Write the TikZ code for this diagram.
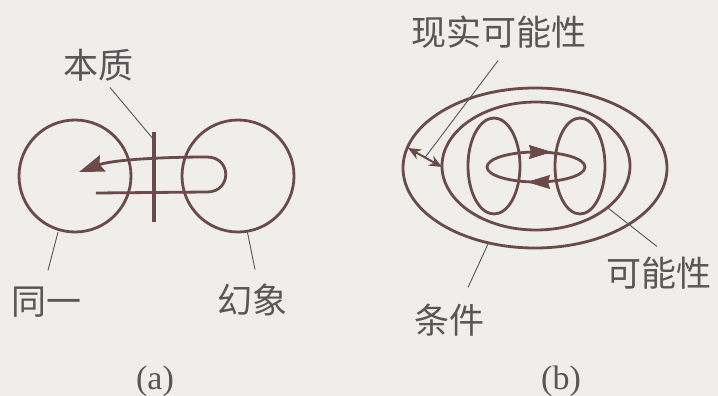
\documentclass[tikz,border=0pt]{standalone}
\usepackage{fontspec}
\setmainfont{Liberation Serif}
\newfontfamily\cjk{Noto Sans CJK SC}
\usetikzlibrary{arrows.meta,calc}
\definecolor{ink}{RGB}{108,74,74}
\definecolor{txt}{RGB}{88,86,86}
\definecolor{paper}{RGB}{239,238,234}

\begin{document}
\begin{tikzpicture}[x=0.5pt,y=-0.5pt,
    line/.style={draw=ink,line width=1.4pt},
    lead/.style={draw=txt,line width=0.45pt},
    word/.style={text=txt,inner sep=0pt,font=\cjk\fontsize{17.5}{18}\selectfont},
    tag/.style={text=txt,inner sep=0pt,font=\fontsize{17}{18}\selectfont}]
    \fill[paper] (0,0) rectangle (718,396);
    \useasboundingbox (0,0) rectangle (718,396);

    % (a)
    \draw[line] (75,176) circle[radius=56];
    \draw[line] (238,176) circle[radius=56];
    \draw[line,-{Stealth[length=12.5pt,width=8.5pt,inset=1.5pt]}] (96,193) -- (207,192)
        .. controls (232,192) and (232,157) .. (207,157)
        .. controls (160,157) and (112,160) .. (79,172);
    \draw[ink,line width=2.2pt] (154,132) -- (154,222);
    \coordinate (barhit) at (154,140);
    \coordinate (samehit) at (58,232);
    \coordinate (illusionhit) at (247,230);
    \node[word] (essence) at (98,65) {本质};
    \node[word] (same) at (46,302) {同一};
    \node[word] (illusion) at (252,300) {幻象};
    \draw[lead] ([shift={(12,6)}]essence.south) -- (barhit);
    \draw[lead] ([shift={(2,-16)}]same.north) -- (samehit);
    \draw[lead] ([shift={(3,-14)}]illusion.north) -- (illusionhit);
    \node[tag] (capa) at (155,381) {(a)};

    % (b)
    \draw[line] (535,168) ellipse[x radius=132,y radius=80];
    \draw[line] (536,166) ellipse[x radius=94,y radius=64];
    \draw[line] (494,166) ellipse[x radius=26,y radius=48];
    \draw[line] (580,166) ellipse[x radius=25,y radius=48];
    \draw[line] (536,167) ellipse[x radius=49,y radius=15];
    \draw[ink,-{Stealth[length=11.5pt,width=7pt,inset=1pt]}] (525,152) -- (552,152);
    \draw[ink,-{Stealth[length=11.5pt,width=7pt,inset=1pt]}] (548,182) -- (527,182);
    \coordinate (outerhit) at (408,148);
    \coordinate (innerhit) at (442,167);
    \draw[ink,line width=1pt,{Stealth[length=6.5pt,width=5.5pt]}-{Stealth[length=6.5pt,width=5.5pt]}]
        (outerhit) -- (innerhit);
    \coordinate (fieldhit) at (608,208);
    \coordinate (condhit) at (488,244);
    \node[word] (real) at (499,32) {现实可能性};
    \node[word] (possible) at (659,273) {可能性};
    \node[word] (cond) at (449,320) {条件};
    \draw[lead] ([shift={(-1,12)}]real.south) -- ($(outerhit)!0.5!(innerhit)$);
    \draw[lead] ([shift={(-2,-10)}]possible.north) -- (fieldhit);
    \draw[lead] ([shift={(19,-16)}]cond.north) -- (condhit);
    \node[tag] (capb) at (561,381) {(b)};
\end{tikzpicture}
\end{document}
